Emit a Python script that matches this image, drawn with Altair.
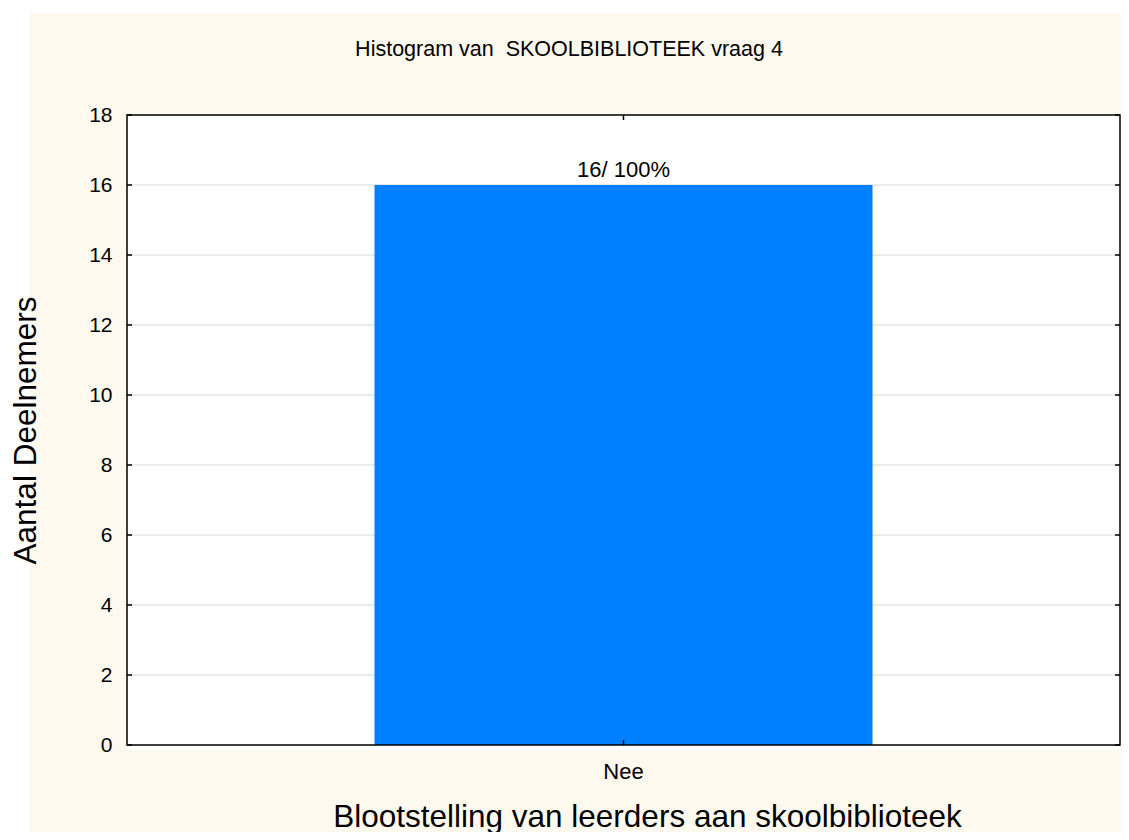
import altair as alt
import pandas as pd

# ---- data ----
categories = ["Nee"]
counts = [16]
bar_labels = ["16/ 100%"]
y_ticks = [0, 2, 4, 6, 8, 10, 12, 14, 16, 18]
grid_values = [2, 4, 6, 8, 10, 12, 14, 16]
title_text = "Histogram van\u00a0 SKOOLBIBLIOTEEK vraag 4"
x_title = "Blootstelling van leerders aan skoolbiblioteek"
y_title = "Aantal Deelnemers"

# ---- styling ----
W, H = 993, 630
FONT = "Liberation Sans"
CREAM = "#FEF9EE"
BAR = "#0080FF"
GRID = "#D6D6D6"

bars = pd.DataFrame({"cat": categories, "n": counts, "label": bar_labels})
grid = pd.DataFrame({"n": grid_values})
ticks = pd.DataFrame({"n": y_ticks})
one = pd.DataFrame({"t": [title_text]})

x_scale = alt.Scale(domain=categories, paddingInner=0, paddingOuter=0.497)
y_scale = alt.Scale(domain=[0, 18], nice=False, zero=True)

x_axis = alt.Axis(
    domain=False, ticks=False, tickSize=0, grid=False, labelAngle=0,
    labelFont=FONT, labelFontSize=22, labelColor="black",
    labelPadding=16, labelBaseline="top", zindex=1,
    title=x_title, titleFont=FONT, titleFontSize=31.5,
    titleFontWeight="normal", titleColor="black",
    titleX=520, titleY=81, titleAlign="center", titleBaseline="alphabetic",
)
y_axis = alt.Axis(
    values=y_ticks, domain=False, ticks=False, tickSize=0, grid=False,
    labelFont=FONT, labelFontSize=21, labelColor="black",
    labelPadding=15, labelFlush=False, labelOverlap=False, zindex=1,
    title=y_title, titleFont=FONT, titleFontSize=31.5,
    titleFontWeight="normal", titleColor="black",
    titleX=-92, titleY=315, titleAngle=270, titleAlign="center",
    titleBaseline="alphabetic",
)

X = alt.X("cat:N", scale=x_scale, axis=x_axis)
Y = alt.Y("n:Q", scale=y_scale, axis=y_axis)

cream = alt.Chart(one).mark_rect(color=CREAM).encode(
    x=alt.value(-97), x2=alt.value(1200), y=alt.value(-102), y2=alt.value(900)
)
white = alt.Chart(one).mark_rect(color="white").encode(
    x=alt.value(0), x2=alt.value(1200), y=alt.value(0), y2=alt.value(H + 5)
)
gridlines = alt.Chart(grid).mark_rule(color=GRID, strokeWidth=1).encode(
    y=Y, x=alt.value(0), x2=alt.value(W)
)
left_ticks = alt.Chart(ticks).mark_rule(color="black", strokeWidth=1.5).encode(
    y=Y, x=alt.value(0), x2=alt.value(5)
)
right_ticks = alt.Chart(ticks).mark_rule(color="black", strokeWidth=1.5).encode(
    y=Y, x=alt.value(W - 5), x2=alt.value(W)
)
bottom_ticks = alt.Chart(bars).mark_rule(color="black", strokeWidth=1.5).encode(
    x=X, y=alt.value(H - 5), y2=alt.value(H)
)
top_ticks = alt.Chart(bars).mark_rule(color="black", strokeWidth=1.5).encode(
    x=X, y=alt.value(0), y2=alt.value(5)
)

bar = alt.Chart(bars).mark_bar(color=BAR).encode(x=X, y=Y)

bar_text = alt.Chart(bars).mark_text(
    font=FONT, fontSize=22, color="black", baseline="alphabetic", dy=-8
).encode(x=X, y=Y, text="label:N")

border = alt.Chart(one).mark_rect(
    fillOpacity=0, stroke="black", strokeWidth=1.5
).encode(x=alt.value(0), x2=alt.value(W), y=alt.value(0), y2=alt.value(H))

title = alt.Chart(one).mark_text(
    font=FONT, fontSize=21.5, color="black", baseline="alphabetic", align="center"
).encode(x=alt.value(442), y=alt.value(-59.3), text="t:N")

chart = alt.layer(
    cream, white, gridlines, bar, bar_text, left_ticks, right_ticks,
    bottom_ticks, top_ticks, border, title,
).properties(
    width=W,
    height=H,
    autosize=alt.AutoSizeParams(type="none"),
    padding={"left": 119, "top": 107, "right": 1, "bottom": 87},
    background="white",
).configure_view(strokeWidth=0)

chart.save("out.html", embed_options={"renderer": "svg", "actions": False})
